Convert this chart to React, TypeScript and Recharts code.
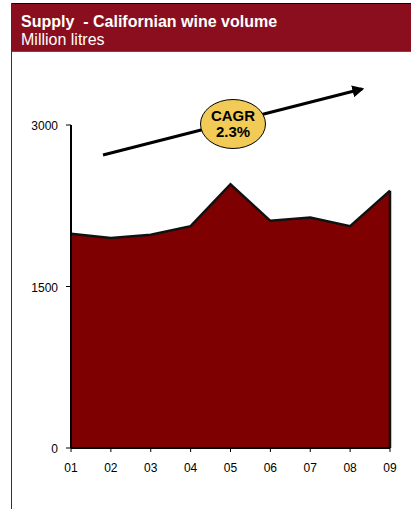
import React from 'react';
import { AreaChart, Area, XAxis, YAxis, ReferenceLine } from 'recharts';

const years = ['01', '02', '03', '04', '05', '06', '07', '08', '09'];
const volume = [1990, 1950, 1980, 2060, 2450, 2110, 2140, 2060, 2390];
const yTicks = [0, 1500, 3000];
const title = 'Supply  - Californian wine volume';
const subtitle = 'Million litres';
const cagrLabel = ['CAGR', '2.3%'];

const data = years.map((y, i) => ({ year: y, volume: volume[i] }));
const FONT = '"Liberation Sans", Arial, sans-serif';

export default function App() {
  const last = data[data.length - 1];
  return (
    <div style={{ position: 'absolute', left: 0, top: 0, width: 411, height: 509, background: '#fff', fontFamily: FONT, overflow: 'hidden' }}>
      <div style={{ position: 'absolute', left: 11, top: 3, width: 400, height: 1, background: '#000' }} />
      <div style={{ position: 'absolute', left: 11, top: 3, width: 1, height: 506, background: '#333' }} />
      <div style={{ position: 'absolute', left: 12, top: 4, width: 399, height: 47, background: '#8A0E1E', borderBottom: '1px solid #555' }}>
        <div style={{ position: 'absolute', left: 9, top: 10, color: '#fff', fontWeight: 'bold', fontSize: 16, lineHeight: '16px', whiteSpace: 'pre' }}>{title}</div>
        <div style={{ position: 'absolute', left: 9, top: 28, color: '#fff', fontSize: 16, lineHeight: '16px' }}>{subtitle}</div>
      </div>
      <div style={{ position: 'absolute', left: 0, top: 0 }}>
        <AreaChart width={411} height={509} data={data} margin={{ top: 125, right: 21, bottom: 31, left: 0 }}>
          <XAxis
            dataKey="year"
            axisLine={{ stroke: '#000', strokeWidth: 2 }}
            tickLine={{ stroke: '#000', strokeWidth: 1 }}
            tickSize={4}
            tickMargin={11}
            height={30}
            tick={{ fill: '#000', fontSize: 12, fontFamily: FONT }}
            interval={0}
          />
          <YAxis
            domain={[0, 3000]}
            ticks={yTicks}
            width={71}
            axisLine={{ stroke: '#000', strokeWidth: 2 }}
            tickLine={{ stroke: '#000', strokeWidth: 1 }}
            tickSize={5}
            tickMargin={8}
            tick={{ fill: '#000', fontSize: 12, fontFamily: FONT, dy: 1 }}
          />
          <Area
            type="linear"
            dataKey="volume"
            fill="#7F0000"
            fillOpacity={1}
            stroke="#111"
            strokeWidth={2.5}
            isAnimationActive={false}
          />
          <ReferenceLine
            segment={[{ x: last.year, y: 0 }, { x: last.year, y: last.volume }]}
            stroke="#111"
            strokeWidth={2.5}
          />
        </AreaChart>
      </div>
      <svg style={{ position: 'absolute', left: 0, top: 0 }} width={411} height={509}>
        <defs>
          <marker id="arr" viewBox="0 0 10 10" refX="8" refY="5" markerWidth="4" markerHeight="4" orient="auto">
            <path d="M0,0 L10,5 L0,10 z" fill="#000" />
          </marker>
        </defs>
        <line x1={103} y1={155} x2={362} y2={89} stroke="#000" strokeWidth={3} markerEnd="url(#arr)" />
        <ellipse cx={233} cy={124} rx={32.5} ry={24.5} fill="#F2CB57" stroke="#000" strokeWidth={1} />
        <text x={233} y={121} textAnchor="middle" fontFamily={FONT} fontWeight="bold" fontSize={15} fill="#000">{cagrLabel[0]}</text>
        <text x={233} y={137} textAnchor="middle" fontFamily={FONT} fontWeight="bold" fontSize={15} fill="#000">{cagrLabel[1]}</text>
      </svg>
    </div>
  );
}
